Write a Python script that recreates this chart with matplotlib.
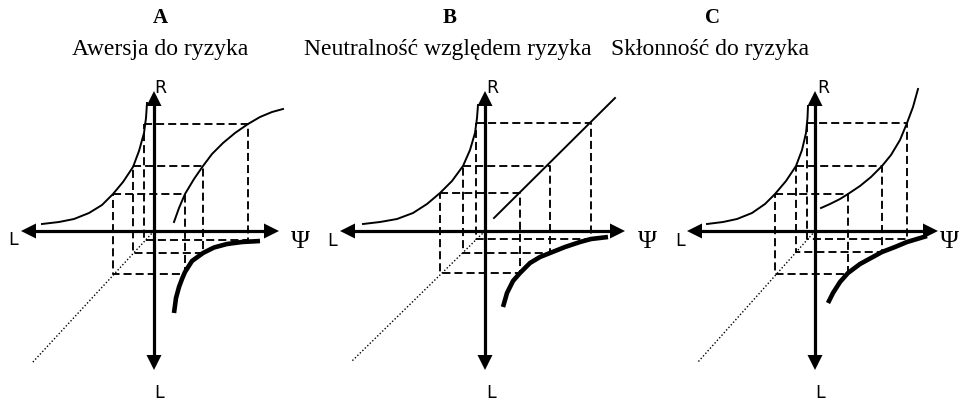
import matplotlib
matplotlib.use("Agg")
import matplotlib.pyplot as plt

plt.rcParams['lines.scale_dashes'] = False

# ---------------- data (local units: origin at axes crossing, y up) -------------
panel_letters = ["A", "B", "C"]
panel_titles = ["Awersja do ryzyka", "Neutralność względem ryzyka", "Skłonność do ryzyka"]
origins = [(154, 231), (485, 231), (815, 231)]

# axis extents (left, right, top, bottom)
axis_left = [-133, -145, -128]
axis_right = [125, 140, 123]
axis_top = [140, 140, 140]
axis_bottom = [-139, -139, -139]

# three levels per panel
lev_L = [[-41, -21, -10], [-45, -22, -9], [-40, -19, -8]]
lev_R = [[37, 65, 107], [38, 65, 108], [37, 65, 108]]
lev_Psi = [[31, 49, 94], [35, 65, 106], [33, 67, 92]]
lev_Ldown = [[-43, -22, -9], [-42, -22, -8], [-43, -21, -8]]

# quadrant II curve R(L)
q2_x = [
    [-112, -95, -80, -65, -52, -41, -31, -21, -15, -10, -8, -7],
    [-122, -105, -88, -72, -58, -45, -33, -22, -15, -10, -8, -7],
    [-108, -92, -78, -63, -50, -40, -29, -19, -13, -9, -7.5, -7],
]
q2_y = [
    [7, 9, 12, 18, 26, 37, 49, 64, 80, 98, 113, 128],
    [7, 9, 12, 18, 27, 38, 50, 65, 81, 98, 113, 126],
    [7, 9, 12, 18, 27, 37, 50, 65, 81, 98, 113, 125],
]

# quadrant I curve R(Psi)
q1_x = [
    [20, 25, 31, 40, 49, 58, 69, 81, 94, 106, 118, 129],
    [9, 130],
    [6, 15, 25, 33, 45, 56, 67, 76, 85, 92, 98, 103],
]
q1_y = [
    [9, 23, 37, 52, 65, 77, 88, 98, 107, 114, 119, 122],
    [13, 133],
    [23, 27, 32, 37, 45, 54, 65, 76, 91, 108, 124, 142],
]

# quadrant IV thick curve L(Psi)
q4_x = [
    [20, 22, 25, 28, 31, 38, 49, 60, 73, 88, 106],
    [18, 22, 28, 35, 45, 55, 65, 80, 95, 106, 123],
    [13, 18, 25, 33, 45, 56, 67, 80, 92, 112],
]
q4_y = [
    [-82, -67, -56, -48, -41, -30, -22, -16.5, -13, -11, -10],
    [-76, -62, -50, -42, -32, -26, -22, -16, -11, -8, -6],
    [-72, -62, -51, -42, -33, -27, -21, -16, -11, -5],
]

# dotted 45-degree line end (quadrant III)
diag_end = [(-122, -132), (-134, -131), (-117, -131)]

# label positions
lab_R = [(6, 143), (7, 143), (8, 143)]
lab_Lleft = [(-141, -9), (-153, -10), (-135, -10)]
lab_Psi = [(146, -11), (162, -11), (134, -11)]
lab_Lbottom = [(5, -162), (6, -162), (5, -162)]
lab_letter = [(6, 213), (-35, 213), (-103, 213)]
lab_title = [(6, 182), (-37, 182), (-105, 182)]

W, H = 960, 401
fig = plt.figure(figsize=(W / 100, H / 100), dpi=100)

SERIF = ["Liberation Serif", "DejaVu Serif"]
SANS = ["DejaVu Sans"]


def head(ax, tip, d, L=15, Wd=15):
    tx, ty = tip
    dx, dy = d
    bx, by = tx - dx * L, ty - dy * L
    px, py = -dy, dx
    ax.fill([tx, bx + px * Wd / 2, bx - px * Wd / 2],
            [ty, by + py * Wd / 2, by - py * Wd / 2],
            color="black", lw=0, zorder=5)


for i in range(3):
    ox, oy = origins[i]
    ax = fig.add_axes([0, 0, 1, 1])
    ax.set_xlim(-ox, W - ox)
    ax.set_ylim(oy - H, oy)
    ax.axis("off")
    ax.patch.set_alpha(0)

    # dashed rectangles
    for Lv, Rv, Pv, Dv in zip(lev_L[i], lev_R[i], lev_Psi[i], lev_Ldown[i]):
        ax.plot([Lv, Pv, Pv, Lv, Lv], [Rv, Rv, Dv, Dv, Rv], color="black",
                lw=1.35, dashes=(5.8, 2.9), solid_capstyle="butt", zorder=2)

    # diagonal dotted
    ax.plot([0, diag_end[i][0]], [0, diag_end[i][1]], color="black", lw=1.0,
            dashes=(1.0, 1.5), zorder=2)

    # axes
    ax.plot([axis_left[i] + 5, axis_right[i] - 5], [0, 0], color="black", lw=2.3,
            solid_capstyle="butt", zorder=4)
    ax.plot([0, 0], [axis_bottom[i] + 5, axis_top[i] - 5], color="black", lw=2.3,
            solid_capstyle="butt", zorder=4)
    head(ax, (axis_left[i], 0), (-1, 0))
    head(ax, (axis_right[i], 0), (1, 0))
    head(ax, (0, axis_top[i]), (0, 1))
    head(ax, (0, axis_bottom[i]), (0, -1))

    # curves
    ax.plot(q2_x[i], q2_y[i], color="black", lw=1.4, zorder=3)
    ax.plot(q1_x[i], q1_y[i], color="black", lw=1.4, zorder=3)
    ax.plot(q4_x[i], q4_y[i], color="black", lw=3.3, solid_capstyle="butt", zorder=3)

    # labels
    ax.text(*lab_R[i], "R", family=SANS, fontsize=12.5, ha="center", va="center")
    ax.text(*lab_Lleft[i], "L", family=SANS, fontsize=12.5, ha="center", va="center")
    ax.text(*lab_Lbottom[i], "L", family=SANS, fontsize=12.5, ha="center", va="center")
    ax.text(*lab_Psi[i], "Ψ", family=SERIF, fontsize=18.5, ha="center", va="center")
    ax.text(*lab_letter[i], panel_letters[i], family=SERIF, fontsize=15,
            fontweight="bold", ha="center", va="center")
    ax.text(*lab_title[i], panel_titles[i], family=SERIF, fontsize=17,
            ha="center", va="center")

fig.savefig("out.png", dpi=100)
